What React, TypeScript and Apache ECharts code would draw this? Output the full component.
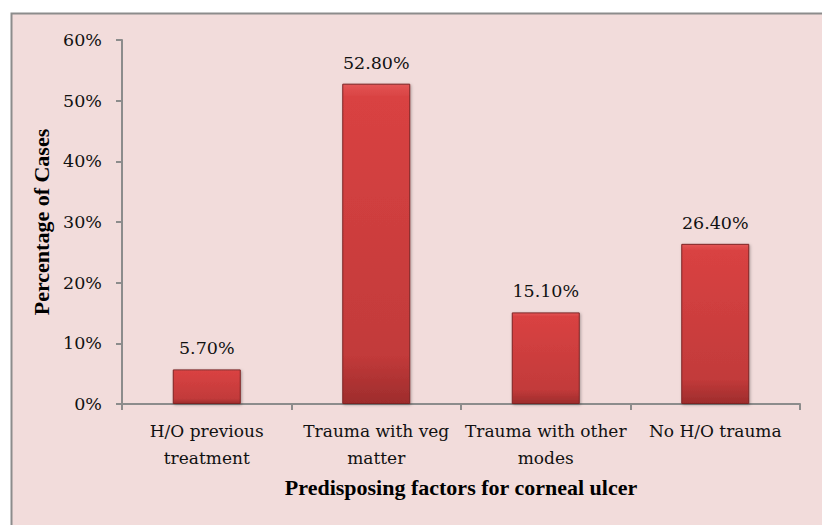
import React, { useEffect, useRef } from "react";
import * as echarts from "echarts";

const categories = ["H/O previous\ntreatment", "Trauma with veg\nmatter", "Trauma with other\nmodes", "No H/O trauma"];
const values = [5.7, 52.8, 15.1, 26.4];
const yTicks = [0, 10, 20, 30, 40, 50, 60];

export default function App() {
  const ref = useRef<HTMLDivElement>(null);
  useEffect(() => {
    const chart = echarts.init(ref.current!, null, { renderer: "svg" });
    const regular = "DejaVu Serif";
    const bold = "Liberation Serif";
    chart.setOption({
      animation: false,
      backgroundColor: "#ffffff",
      graphic: [
        {
          type: "rect",
          z: -10,
          shape: { x: 11.5, y: 13.5, width: 830, height: 530 },
          style: { fill: "#f2dcdb", stroke: "#8c8c8c", lineWidth: 2 },
        },
      ],
      grid: { left: 122, right: 22, top: 40, bottom: 121 },
      xAxis: {
        type: "category",
        data: categories,
        axisLine: { lineStyle: { color: "#8c8c8c", width: 2 } },
        axisTick: { show: true, length: 6, lineStyle: { color: "#8c8c8c", width: 2 } },
        axisLabel: { color: "#111", fontFamily: regular, fontSize: 17, lineHeight: 27, margin: 13, interval: 0 },
        name: "Predisposing factors for corneal ulcer",
        nameLocation: "middle",
        nameGap: 72,
        nameTextStyle: { color: "#000", fontFamily: bold, fontSize: 22, fontWeight: "bold" },
      },
      yAxis: {
        type: "value",
        min: 0,
        max: 60,
        interval: 10,
        axisLine: { show: true, lineStyle: { color: "#8c8c8c", width: 2 } },
        axisTick: { show: true, length: 6, lineStyle: { color: "#8c8c8c", width: 2 } },
        splitLine: { show: false },
        axisLabel: {
          color: "#111",
          fontFamily: regular,
          fontSize: 17.5,
          margin: 20,
          formatter: (v: number) => (yTicks.includes(v) ? v + "%" : ""),
        },
        name: "Percentage of Cases",
        nameLocation: "middle",
        nameGap: 67,
        nameTextStyle: { color: "#000", fontFamily: bold, fontSize: 22, fontWeight: "bold" },
      },
      series: [
        {
          type: "bar",
          data: values,
          barWidth: 68,
          itemStyle: {
            color: new echarts.graphic.LinearGradient(0, 0, 0, 1, [
              { offset: 0, color: "#e35656" },
              { offset: 0.04, color: "#d94242" },
              { offset: 0.85, color: "#c23a3a" },
              { offset: 1, color: "#9e2c2c" },
            ]),
            borderColor: "#7d2424",
            borderWidth: 1,
            shadowColor: "rgba(0,0,0,0.3)",
            shadowBlur: 3,
            shadowOffsetX: 1,
            shadowOffsetY: 1,
          },
          label: {
            show: true,
            position: "top",
            distance: 12,
            color: "#111",
            fontFamily: regular,
            fontSize: 17.5,
            formatter: (p: any) => p.value.toFixed(2) + "%",
          },
        },
      ],
    });
    return () => chart.dispose();
  }, []);
  return <div ref={ref} style={{ position: "absolute", left: 0, top: 0, width: 822, height: 525 }} />;
}
